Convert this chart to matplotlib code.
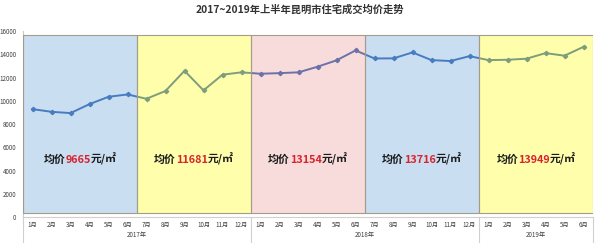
import matplotlib
matplotlib.use("Agg")
import matplotlib.pyplot as plt
from matplotlib.offsetbox import TextArea, HPacker, AnnotationBbox
from matplotlib.lines import Line2D
from matplotlib.patches import Rectangle

plt.rcParams['font.family'] = ['Noto Sans CJK SC', 'DejaVu Sans']

title = "2017~2019年上半年昆明市住宅成交均价走势"
months = ["1月", "2月", "3月", "4月", "5月", "6月", "7月", "8月", "9月", "10月", "11月", "12月",
          "1月", "2月", "3月", "4月", "5月", "6月", "7月", "8月", "9月", "10月", "11月", "12月",
          "1月", "2月", "3月", "4月", "5月", "6月"]
prices = [9290, 9060, 8950, 9720, 10350, 10550,
          10180, 10850, 12580, 10900, 12250, 12450,
          12330, 12380, 12450, 12930, 13480, 14330,
          13640, 13650, 14160, 13500, 13420, 13840,
          13500, 13530, 13620, 14100, 13880, 14640]
years = ["2017年", "2018年", "2019年"]
year_sizes = [12, 12, 6]
half_year_avg = ["9665", "11681", "13154", "13716", "13949"]
band_colors = [(0.36, 0.61, 0.84, 0.33), (1.0, 1.0, 0.0, 0.33), (0.90, 0.50, 0.50, 0.27),
               (0.36, 0.61, 0.84, 0.33), (1.0, 1.0, 0.0, 0.33)]
yticks = list(range(0, 16001, 2000))

fig = plt.figure(figsize=(6.0, 2.43), dpi=100)
ax = fig.add_axes([23/600, 1-217.3/243, 570/600, (217.3-31)/243])

x = list(range(1, len(prices) + 1))
ax.plot(x, prices, color='#3f6db8', lw=1.4, marker='D', ms=2.2, zorder=2)

ax.set_xlim(0.5, len(prices) + 0.5)
ax.set_ylim(0, 16000)

# half-year bands
for i, c in enumerate(band_colors):
    left = 0.5 + 6 * i
    ax.add_patch(Rectangle((left, 350), 6, 15300, facecolor=c,
                           edgecolor='#a39c8a', lw=0.8, zorder=3))
    cx = left + 3
    parts = [TextArea("均价", textprops=dict(color='#1a1a1a', fontsize=7.8, fontweight='bold')),
             TextArea(half_year_avg[i], textprops=dict(color='#d9232d', fontsize=7.8, fontweight='bold')),
             TextArea("元/㎡", textprops=dict(color='#1a1a1a', fontsize=7.8, fontweight='bold'))]
    box = HPacker(children=parts, pad=0, sep=0, align='baseline')
    ab = AnnotationBbox(box, (cx, 5000), xycoords='data', frameon=False,
                        box_alignment=(0.5, 0.5), zorder=5)
    ax.add_artist(ab)

ax.set_yticks(yticks)
ax.set_yticklabels([str(v) for v in yticks], fontsize=4.5, color='#404040')
ax.set_xticks(x)
ax.set_xticklabels(months, fontsize=4.5, color='#404040')
ax.tick_params(axis='both', length=0, pad=5)
ax.tick_params(axis='x', pad=3)

for s in ['top', 'right']:
    ax.spines[s].set_visible(False)
ax.spines['left'].set_color('#c8c8c8')
ax.spines['bottom'].set_color('#d0d0d0')
ax.spines['left'].set_linewidth(0.8)
ax.spines['bottom'].set_linewidth(0.8)

# year group labels and separators
start = 0.5
trans = ax.get_xaxis_transform()
ax.add_line(Line2D([start, start], [0, -0.15], transform=trans, color='#d0d0d0', lw=0.8, clip_on=False))
for y, n in zip(years, year_sizes):
    end = start + n
    ax.text((start + end) / 2, -0.097, y, transform=trans, ha='center', va='center',
            fontsize=4.5, color='#404040')
    ax.add_line(Line2D([end, end], [0, -0.15], transform=trans, color='#d0d0d0', lw=0.8, clip_on=False))
    start = end

fig.text(0.5, 1 - 10/243, title, ha='center', va='center', fontsize=7.4,
         fontweight='bold', color='#333333')

fig.savefig("out.png", dpi=100)
